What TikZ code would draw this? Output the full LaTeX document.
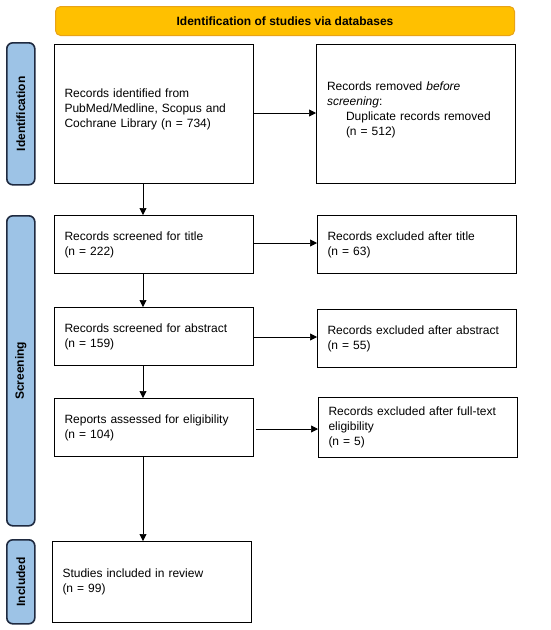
\documentclass[tikz,border=0pt]{standalone}
\usepackage{fontspec}
\setmainfont{Liberation Sans}
\usetikzlibrary{arrows.meta}
\definecolor{bannerfill}{HTML}{FFC000}
\definecolor{bannerline}{HTML}{E8A317}
\definecolor{sidefill}{HTML}{9DC3E6}
\definecolor{sideline}{HTML}{1F2A40}
\tikzset{
  x=1pt, y=-1pt,
  box/.style={draw=black, line width=1pt, fill=white, anchor=north west,
    minimum width=199pt, text width=179pt, inner xsep=10pt, inner ysep=0pt,
    align=left, font=\fontsize{12}{15}\selectfont},
  side/.style={draw=sideline, line width=1.6pt, fill=sidefill, rounded corners=6pt,
    minimum width=28pt, inner sep=0pt},
  sidetext/.style={rotate=90, font=\bfseries\fontsize{12}{14}\selectfont, text=black},
  arr/.style={draw=black, line width=0.7pt, -{Triangle[length=7pt,width=7pt]}}
}
\begin{document}
\begin{tikzpicture}
\useasboundingbox (0,0) rectangle (550,630);
% banner
\node[draw=bannerline, line width=1pt, fill=bannerfill, rounded corners=5pt,
  minimum width=459pt, minimum height=29pt, anchor=north west, inner sep=0pt,
  font=\bfseries\fontsize{12}{14}\selectfont] (banner) at (55,6) {Identification of studies via databases};
% side labels
\node[side, minimum height=142pt, anchor=north west] (sid) at (6,42) {};
\node[sidetext] (sidt) at (sid.center) {Identification};
\node[side, minimum height=310pt, anchor=north west] (sscr) at (6,215) {};
\node[sidetext] (sscrt) at (sscr.center) {Screening};
\node[side, minimum height=84pt, anchor=north west] (sinc) at (6,539) {};
\node[sidetext] (sinct) at (sinc.center) {Included};
% boxes
\node[box, minimum height=139pt] (b1) at (54,44)
  {Records identified from\\PubMed/Medline, Scopus and\\Cochrane Library (n = 734)\\[-3pt]\mbox{}};
\node[box, minimum height=139pt, text width=178pt, inner xsep=10.5pt] (b2) at (316,44)
  {Records removed \textit{before}\\\textit{screening}:\\\hspace*{19pt}Duplicate records removed\\\hspace*{19pt}(n = 512)\\[-5pt]\mbox{}};
\node[box, minimum height=58pt] (b3) at (54,215)
  {Records screened for title\\(n = 222)};
\node[box, minimum height=58pt] (b4) at (317,215)
  {Records excluded after title\\(n = 63)};
\node[box, minimum height=58pt] (b5) at (54,307)
  {Records screened for abstract\\(n = 159)};
\node[box, minimum height=58pt] (b6) at (317,309)
  {Records excluded after abstract\\(n = 55)};
\node[box, minimum height=58pt] (b7) at (54,398)
  {Reports assessed for eligibility\\(n = 104)};
\node[box, minimum height=60pt] (b8) at (318,397)
  {Records excluded after full-text\\eligibility\\(n = 5)};
\node[box, minimum height=81pt] (b9) at (52,541)
  {Studies included in review\\(n = 99)};
% arrows
\coordinate (a1s) at (253,113); \coordinate (a1e) at (316,113);
\draw[arr] (a1s) -- (a1e);
\coordinate (a2s) at (253,243); \coordinate (a2e) at (317,243);
\draw[arr] (a2s) -- (a2e);
\coordinate (a3s) at (253,337); \coordinate (a3e) at (317,337);
\draw[arr] (a3s) -- (a3e);
\coordinate (a4s) at (256,429); \coordinate (a4e) at (318,429);
\draw[arr] (a4s) -- (a4e);
\draw[arr] (b1.south west -| 143,0) -- (b3.north west -| 143,0);
\draw[arr] (b3.south west -| 143,0) -- (b5.north west -| 143,0);
\draw[arr] (b5.south west -| 143,0) -- (b7.north west -| 143,0);
\draw[arr] (b7.south west -| 143,0) -- (b9.north west -| 143,0);
\end{tikzpicture}
\end{document}
